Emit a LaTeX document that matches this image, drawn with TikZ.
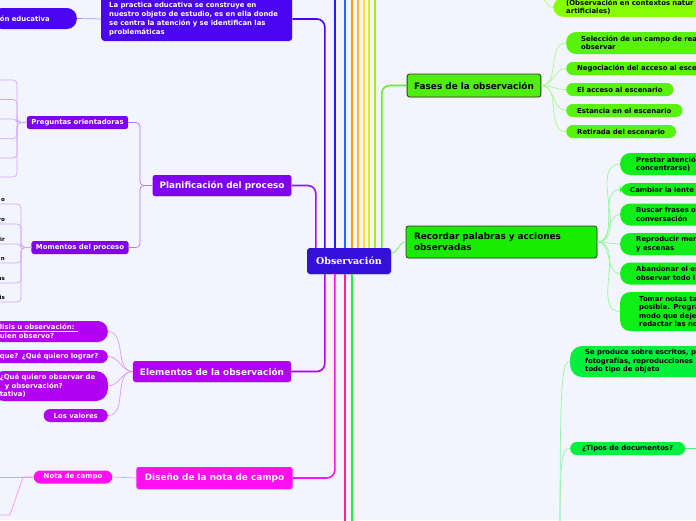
\documentclass[tikz,border=0pt]{standalone}
\usepackage{fontspec}
\setmainfont{DejaVu Sans}
\newfontfamily\obsserif{DejaVu Serif}
\usetikzlibrary{positioning,calc,shadows}
\definecolor{mmbg}{HTML}{F2F5FD}
\definecolor{mmobs}{HTML}{3510DC}
\definecolor{mmindigo}{HTML}{4A06F0}
\definecolor{mmviolet}{HTML}{8000F0}
\definecolor{mmpurple}{HTML}{B200F0}
\definecolor{mmmagenta}{HTML}{FF10F0}
\definecolor{mmgreen}{HTML}{50EE10}
\definecolor{mmlime}{HTML}{58F20C}
\definecolor{mmtop}{HTML}{86FF00}
\definecolor{mmrec}{HTML}{18EC00}
\definecolor{mmrecsub}{HTML}{10EE18}
\definecolor{mmdoc}{HTML}{00F03C}
\definecolor{busa}{HTML}{2020FF}
\definecolor{busb}{HTML}{1E6EFF}
\definecolor{busc}{HTML}{FF9C1E}
\definecolor{busd}{HTML}{FFBE1E}
\definecolor{buse}{HTML}{FFE11E}
\definecolor{busf}{HTML}{D8F01E}
\definecolor{busg}{HTML}{A0F01E}
\definecolor{busfas}{HTML}{6CEC26}
\definecolor{busp}{HTML}{FF1EA0}
\definecolor{busq}{HTML}{1EEE40}

\begin{document}
\begin{tikzpicture}[x=1pt, y=-1pt,
  txt/.style={font=\fontsize{6.9}{8.5}\selectfont\bfseries},
  topic/.style={font=\fontsize{8.9}{11}\selectfont\bfseries, rounded corners=2.5pt,
    minimum height=21pt, inner xsep=7pt, inner ysep=0pt,
    drop shadow={shadow xshift=0.5pt, shadow yshift=-1pt, opacity=0.2}},
  sub/.style={txt, rounded corners=2.5pt, minimum height=13pt, inner ysep=0pt, inner xsep=4.5pt},
  pill/.style={txt, rounded corners=6.5pt, minimum height=13pt, inner ysep=0pt},
  bus/.style={line width=1.6pt},
  twig/.style={line width=0.7pt},
]
\useasboundingbox (0,0) rectangle (696,520);
\fill[mmbg] (0,0) rectangle (696,520);
\clip (0,0) rectangle (696,520);
\coordinate (top) at (0,-10);
\coordinate (bot) at (0,530);

% central node
\node[topic, fill=mmobs, text=white, font=\obsserif\fontsize{9.5}{11}\selectfont\bfseries,
  minimum width=84pt, minimum height=26pt, rounded corners=3pt] (obs) at (349,261) {Observación};

% branches running off the top and bottom
\foreach \dx/\c in {28/busa,38/busb,45/busc,51/busd,57/buse,62/busf,68/busg} {
  \coordinate (u) at ($(obs.north west)+(\dx,0)$);
  \draw[bus, \c] (u) -- (u |- top);
}
\foreach \dx/\c in {38/busp,45/busq} {
  \coordinate (d) at ($(obs.south west)+(\dx,0)$);
  \draw[bus, \c] (d) -- (d |- bot);
}

% top left
\node[txt, font=\fontsize{6.9}{9}\selectfont\bfseries, fill=mmindigo, text=white, rounded corners=3pt,
  text width=175pt, align=left, inner xsep=8pt, inner ysep=5pt, anchor=south west,
  drop shadow={shadow xshift=0.5pt, shadow yshift=-1pt, opacity=0.2}] (prac) at (101,41)
  {La practica educativa se construye en\\nuestro objeto de estudio, es en ella donde\\se centra la atención y se identifican las\\problemáticas};
\node[txt, fill=mmindigo, text=white, rounded corners=10pt, minimum height=21pt, inner ysep=0pt,
  text width=69pt, inner xsep=8pt, align=left, anchor=east] (edu) at (77,18.5) {ón educativa};
\draw[twig, mmindigo!45] (prac.west) -- (edu.east);
\draw[bus, mmindigo, rounded corners=8pt] ($(obs.north west)+(18,0)$) |- (prac.east);

% planificacion
\node[topic, fill=mmviolet, text=white] (plan) at (222,185.5) {Planificación del proceso};
\draw[bus, mmviolet!90!white, rounded corners=8pt] ($(obs.north west)+(9,0)$) |- (plan.east);
\node[sub, fill=mmviolet, text=white] (preg) at (77.5,122.5) {Preguntas orientadoras};
\node[sub, fill=mmviolet, text=white] (mom) at (80,247.5) {Momentos del proceso};
\coordinate (pj) at (140,185.5);
\draw[twig, mmviolet!55, rounded corners=4pt] (plan.west) -- (pj) |- (preg.east);
\draw[twig, mmviolet!55, rounded corners=4pt] (plan.west) -- (pj) |- (mom.east);
\coordinate (pb) at (17,122.5);
\foreach \i/\y in {1/80,2/99.5,3/119,4/138.7,5/158,6/177} {
  \coordinate (pq\i) at (-3,\y);
  \draw[twig, mmviolet!35, rounded corners=4pt] (preg.west) -- (pb) |- (pq\i);
}
\coordinate (mb) at (21,247.5);
\foreach \i/\y/\t in {1/204/o,2/224/ro,3/244/ir,4/263/n,5/283/as,6/302/is} {
  \node[font=\fontsize{5.5}{6}\selectfont\bfseries, anchor=south east, inner xsep=4pt, inner ysep=2pt,
    text width=20pt, align=right] (mo\i) at (9,\y) {\t};
  \draw[twig, mmviolet!35, rounded corners=4pt] (mom.west) -- (mb) |- (mo\i.south east) -- (mo\i.south west);
}

% elementos
\node[topic, fill=mmpurple, text=white] (elem) at (212,371.5) {Elementos de la observación};
\draw[bus, mmpurple, rounded corners=8pt] ($(obs.south west)+(18,0)$) |- (elem.east);
\node[pill, fill=mmpurple, text=white, text width=100pt, align=left, inner xsep=8pt,
  rounded corners=10pt, minimum height=21pt, anchor=east] (el1) at (108,331.5)
  {\underline{lisis u observación: }\\uien observo?};
\node[pill, fill=mmpurple, text=white, text width=100pt, align=left, inner xsep=8pt,
  anchor=east] (el2) at (108,356.5) {que? ¿Qué quiero lograr?};
\node[pill, fill=mmpurple, text=white, text width=100pt, align=left, inner xsep=8pt,
  rounded corners=12pt, minimum height=30pt, anchor=east] (el3) at (108,386)
  {¿Qué quiero observar de\\\hspace*{5pt}y observación?\\tativa)};
\node[pill, fill=mmpurple, text=white, inner xsep=10pt, anchor=east] (el4) at (108,415.5) {Los valores};
\foreach \k in {1,...,4}
  \draw[twig, mmpurple!40] (elem.west) to[out=180,in=0] (el\k.east);

% diseno
\node[topic, fill=mmmagenta, text=white, inner xsep=8.5pt, minimum height=22pt] (dis) at (214.5,478) {Diseño de la nota de campo};
\draw[bus, mmmagenta, rounded corners=8pt] ($(obs.south west)+(28,0)$) |- (dis.east);
\node[pill, fill=mmmagenta, text=white, inner xsep=10pt] (nota) at (73,477) {Nota de campo};
\draw[twig, mmmagenta!45] (dis.west) -- (nota.east);
\coordinate (nc1) at (-3,477);
\coordinate (nb) at (23,477);
\coordinate (nk) at (10,515);
\coordinate (nc2) at (-3,515);
\draw[twig, mmmagenta!45] (nota.west) -- (nc1);
\draw[twig, mmmagenta!45] (nota.west) -- (nb) -- (nk) -- (nc2);

% fases
\node[topic, fill=mmgreen, draw=black!80, line width=0.8pt, text=black, minimum height=23pt] (fas) at (474,85.5) {Fases de la observación};
\draw[bus, busfas, rounded corners=8pt] ($(obs.north west)+(75,0)$) |- (fas.west);
\node[pill, fill=mmlime, anchor=west, minimum height=22pt, rounded corners=10pt, text width=160pt,
  align=left, inner xsep=15pt] (fa1) at (566,43) {Selección de un campo de rea\\observar};
\node[pill, fill=mmlime, anchor=west, inner xsep=11pt, text width=150pt, align=left] (fa2) at (566,68.5) {Negociación del acceso al esce};
\foreach \i/\y/\t in {3/89.5/El acceso al escenario,4/110.5/Estancia en el escenario,5/131.5/Retirada del escenario}
  \node[pill, fill=mmlime, anchor=west, inner xsep=11pt] (fa\i) at (566,\y) {\t};
\foreach \k in {1,...,5}
  \draw[twig, mmlime!50] (fas.east) to[out=0,in=180] (fa\k.west);

% top right
\node[txt, fill=mmtop, anchor=south west, rounded corners=10pt, text width=160pt, align=left,
  inner xsep=13pt, inner ysep=2pt] (nat) at (553,17) {(Observación en contextos natur\\artificiales)};
\coordinate (natin) at (541,-14);
\draw[twig, mmtop!60] (natin) .. controls +(0,10) and +(-6,0) .. (nat.west);

% recordar
\node[topic, fill=mmrec, draw=black!80, line width=0.8pt, text=black, text width=175pt, align=left,
  inner xsep=8pt, minimum height=32pt] (rec) at (501.5,242) {Recordar palabras y acciones\\observadas};
\draw[twig, mmrec!55, line width=1pt] ([yshift=8pt]obs.east) to[out=0,in=180] (rec.west);
\foreach \i/\y/\h/\s/\t in {
  1/164/22/16/{Prestar atenció\\concentrarse)},
  2/189.5/13/10/{Cambiar la lente},
  3/214.5/22/16/{Buscar frases o\\conversación},
  4/244/22/16/{Reproducir men\\y escenas},
  5/273.5/22/16/{Abandonar el es\\observar todo l},
  6/311.5/39/19/{Tomar notas ta\\posible. Progra\\modo que deje\\redactar las no}
} {
  \node[txt, fill=mmrecsub, anchor=west, minimum height=\h pt, rounded corners=10pt, text width=90pt,
    align=left, inner xsep=\s pt, inner ysep=0pt] (rc\i) at (620,\y) {\t};
  \draw[twig, mmrecsub!45] (rec.east) to[out=0,in=180] (rc\i.west);
}

% documentos
\node[txt, fill=mmdoc, anchor=west, minimum height=31pt, rounded corners=12pt, text width=150pt,
  align=left, inner xsep=15pt, inner ysep=0pt] (sp1) at (570,361.5)
  {Se produce sobre escritos, p\\fotografías, reproducciones\\todo tipo de objeto};
\node[pill, fill=mmdoc, anchor=west, inner xsep=12pt] (sp2) at (570,448.5) {¿Tipos de documentos?};
\coordinate (dsrc) at (560,528);
\coordinate (sp2out) at (702,448.5);
\draw[twig, mmdoc!45] (dsrc) .. controls +(0,-150) and +(-8,0) .. (sp1.west);
\draw[twig, mmdoc!45] (dsrc) .. controls +(0,-70) and +(-8,0) .. (sp2.west);
\draw[twig, mmdoc!70] (sp2.east) -- (sp2out);
\end{tikzpicture}
\end{document}
